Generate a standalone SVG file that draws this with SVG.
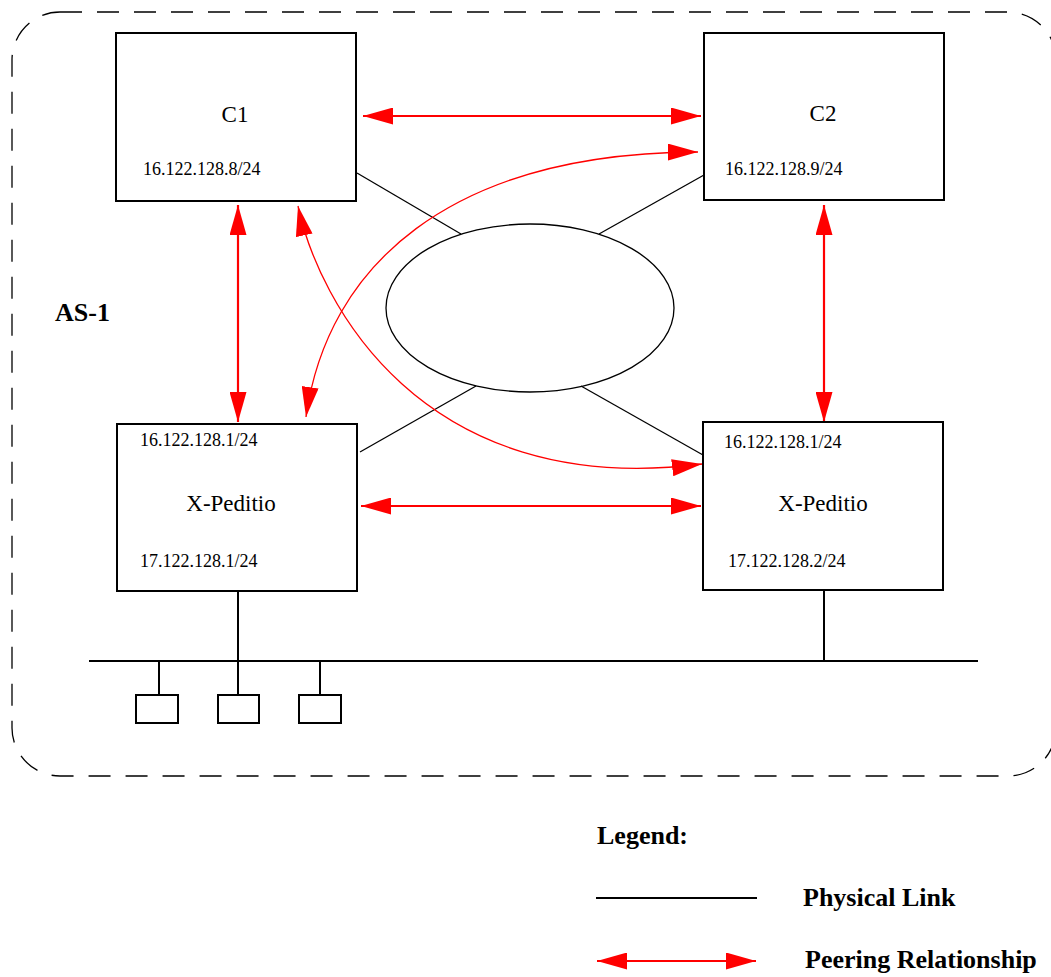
<svg xmlns="http://www.w3.org/2000/svg" width="1051" height="977" viewBox="0 0 1051 977">
<style>
.box{fill:#fff;stroke:#000;stroke-width:2}
.phys{fill:none;stroke:#000;stroke-width:1.3}
.bus{fill:none;stroke:#000;stroke-width:2}
.peer{fill:none;stroke:#f00;stroke-width:2.2;marker-start:url(#ah);marker-end:url(#ah)}
.peerc{fill:none;stroke:#f00;stroke-width:1.3;marker-start:url(#ah);marker-end:url(#ah)}
.big{font-family:"Liberation Serif",serif;font-size:23px;fill:#000;text-anchor:middle}
.small{font-family:"Liberation Serif",serif;font-size:18px;fill:#000}
.bold{font-family:"Liberation Serif",serif;font-size:26px;font-weight:bold;fill:#000}
</style>
<defs>
<marker id="ah" viewBox="0 0 30 17" refX="30" refY="8.5" markerWidth="30" markerHeight="17" markerUnits="userSpaceOnUse" orient="auto-start-reverse">
<path d="M0,0 L30,8.5 L0,17 z" fill="#f00"/>
</marker>
</defs>
<rect x="12" y="12" width="1044" height="764" rx="48" ry="48" fill="none" stroke="#000" stroke-width="1.3" stroke-dasharray="22 15"/>
<text class="bold" x="55" y="321">AS-1</text>
<g id="connectors">
<line class="phys" x1="357" y1="173" x2="461" y2="234"/>
<line class="phys" x1="599" y1="234" x2="704" y2="175"/>
<line class="phys" x1="360" y1="452" x2="476" y2="386"/>
<line class="phys" x1="581" y1="386" x2="703" y2="455"/>
<line class="bus" x1="89" y1="661" x2="978" y2="661"/>
<line class="bus" x1="238" y1="591" x2="238" y2="695"/>
<line class="bus" x1="824" y1="590" x2="824" y2="661"/>
<line class="bus" x1="159" y1="661" x2="159" y2="695"/>
<line class="bus" x1="320" y1="661" x2="320" y2="695"/>
<line class="peer" x1="363" y1="116" x2="701" y2="116"/>
<line class="peer" x1="238" y1="205" x2="238" y2="422"/>
<line class="peer" x1="824" y1="205" x2="824" y2="422"/>
<line class="peer" x1="361" y1="506" x2="701" y2="506"/>
<path class="peerc" d="M306,417 C327,267 448,153 698,152"/>
<path class="peerc" d="M298,206 C318,300 420,500 702,464"/>
</g>
<g id="cloud"><ellipse cx="530" cy="308" rx="144" ry="84" fill="none" stroke="#000" stroke-width="1.3"/></g>
<g id="c1">
<rect class="box" x="116" y="33" width="240" height="168"/>
<text class="big" x="235" y="122">C1</text>
<text class="small" x="143" y="175">16.122.128.8/24</text>
</g>
<g id="c2">
<rect class="box" x="704" y="33" width="240" height="167"/>
<text class="big" x="823" y="121">C2</text>
<text class="small" x="725" y="175">16.122.128.9/24</text>
</g>
<g id="xp1">
<rect class="box" x="117" y="424" width="240" height="167"/>
<text class="small" x="140" y="446">16.122.128.1/24</text>
<text class="big" x="231" y="511">X-Peditio</text>
<text class="small" x="140" y="567">17.122.128.1/24</text>
</g>
<g id="xp2">
<rect class="box" x="703" y="422" width="240" height="168"/>
<text class="small" x="724" y="448">16.122.128.1/24</text>
<text class="big" x="823" y="511">X-Peditio</text>
<text class="small" x="728" y="567">17.122.128.2/24</text>
</g>
<g id="hosts">
<rect class="bus" x="136" y="695" width="42" height="28"/>
<rect class="bus" x="218" y="695" width="41" height="28"/>
<rect class="bus" x="299" y="695" width="42" height="28"/>
</g>
<g id="legend">
<text class="bold" x="597" y="844">Legend:</text>
<line x1="596" y1="898" x2="757" y2="898" stroke="#000" stroke-width="2"/>
<text class="bold" x="803" y="906">Physical Link</text>
<line class="peer" x1="597" y1="961" x2="756" y2="961"/>
<text class="bold" x="805" y="968">Peering Relationship</text>
</g>
</svg>
